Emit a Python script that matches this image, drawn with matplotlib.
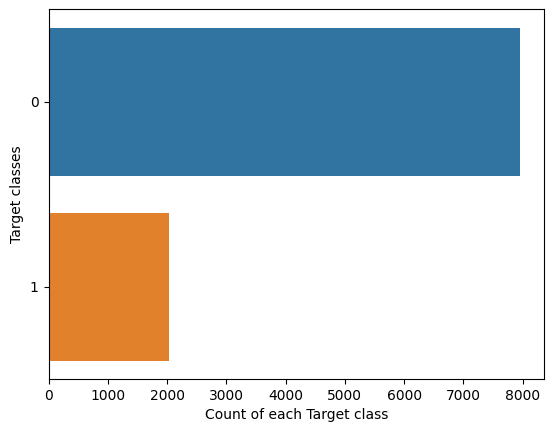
import matplotlib
matplotlib.use("Agg")
import matplotlib.pyplot as plt

categories = ["0", "1"]
counts = [7963, 2037]
colors = ["#3274a1", "#e1812c"]

fig = plt.figure(figsize=(5.54, 4.32), dpi=100)
ax = fig.add_axes([48.5 / 554, (432 - 379) / 432, 495.5 / 554, 369.6 / 432])
pos = list(range(len(categories)))
ax.barh(pos, counts, height=0.8, color=colors)
ax.set_yticks(pos)
ax.set_yticklabels(categories)
ax.set_ylim(len(categories) - 0.5, -0.5)
ax.set_xlim(0, max(counts) * 1.05)
ax.set_xlabel("Count of each Target class")
ax.set_ylabel("Target classes")
fig.savefig("out.png", dpi=100)
